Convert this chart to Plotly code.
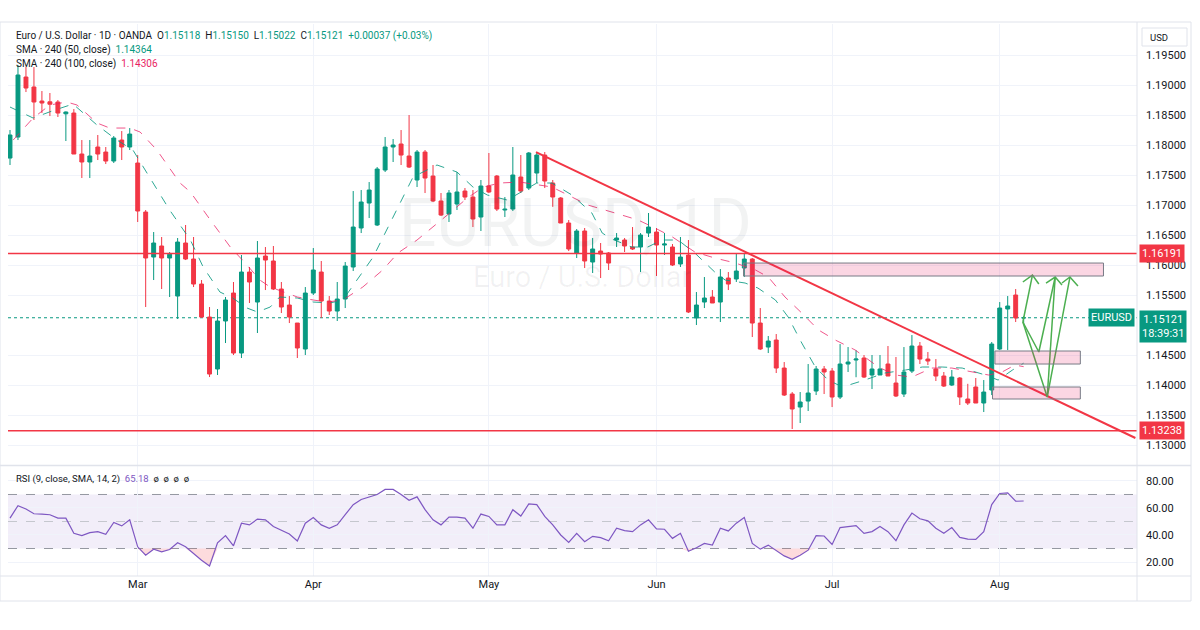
import plotly.graph_objects as go
from plotly.subplots import make_subplots

# ---- data (x = daily bar index) ----
month_ticks = [16, 38, 60, 81, 103, 124]
month_labels = ["Mar", "Apr", "May", "Jun", "Jul", "Aug"]
price_ticks = [1.130, 1.135, 1.140, 1.145, 1.155, 1.160, 1.165, 1.170, 1.175,
               1.180, 1.185, 1.190, 1.195]
rsi_ticks = [20, 40, 60, 80]

opens = [
    1.17783, 1.18133, 1.19133, 1.18967, 1.18733, 1.18720, 1.18717, 1.18520, 1.18533, 1.17850,
    1.17717, 1.17967, 1.17883, 1.17733, 1.18083, 1.17967, 1.17700, 1.16883, 1.16133, 1.16317,
    1.16117, 1.15483, 1.16367, 1.16100, 1.15683, 1.15133, 1.14267, 1.15067, 1.15533, 1.14533,
    1.15883, 1.15383, 1.16150, 1.16067, 1.15600, 1.15333, 1.15033, 1.14600, 1.15533, 1.15883,
    1.15400, 1.15233, 1.15433, 1.15967, 1.16617, 1.17033, 1.16667, 1.17583, 1.17967, 1.18017,
    1.17817, 1.17417, 1.17883, 1.17483, 1.17067, 1.16850, 1.17017, 1.17233, 1.17133, 1.16800,
    1.17317, 1.17483, 1.16917, 1.16933, 1.17467, 1.17283, 1.17533, 1.17833, 1.17367, 1.17117,
    1.16700, 1.16200, 1.16567, 1.16050, 1.16233, 1.16200, 1.16417, 1.16417, 1.16300, 1.16300,
    1.16533, 1.16550, 1.16333, 1.16300, 1.16017, 1.16167, 1.15117, 1.15383, 1.15467, 1.15383,
    1.15783, 1.15767, 1.15950, 1.16100, 1.15033, 1.14633, 1.14750, 1.14283, 1.13850, 1.13633,
    1.13733, 1.13900, 1.14267, 1.14233, 1.13800, 1.14350, 1.14417, 1.14450, 1.14167, 1.14167,
    1.14350, 1.14033, 1.13850, 1.14233, 1.14650, 1.14433, 1.14267, 1.14150, 1.14000, 1.14117,
    1.13767, 1.13967, 1.13700, 1.13917, 1.14600, 1.15267, 1.15500, 1.15118]
highs = [
    1.18250, 1.19333, 1.19300, 1.19300, 1.18900, 1.18867, 1.18750, 1.18560, 1.18600, 1.18083,
    1.18083, 1.18167, 1.17967, 1.18150, 1.18233, 1.18283, 1.17833, 1.16917, 1.16550, 1.16467,
    1.16217, 1.16450, 1.16667, 1.16467, 1.15750, 1.15300, 1.15267, 1.15467, 1.15717, 1.16167,
    1.15967, 1.16400, 1.16300, 1.16317, 1.15717, 1.15483, 1.15033, 1.15633, 1.16283, 1.16067,
    1.15483, 1.15717, 1.16050, 1.17233, 1.17250, 1.17383, 1.17633, 1.18133, 1.18100, 1.18250,
    1.18500, 1.17917, 1.17917, 1.17667, 1.17200, 1.17250, 1.17550, 1.17283, 1.17250, 1.17417,
    1.17867, 1.17500, 1.17133, 1.17967, 1.17833, 1.17883, 1.17867, 1.17883, 1.17417, 1.17133,
    1.16750, 1.16600, 1.16617, 1.16450, 1.16367, 1.16217, 1.16533, 1.16450, 1.16633, 1.16533,
    1.16867, 1.16617, 1.16533, 1.16350, 1.16467, 1.16417, 1.15550, 1.15800, 1.15583, 1.15933,
    1.15883, 1.16200, 1.16200, 1.16117, 1.15283, 1.14817, 1.14850, 1.14383, 1.13883, 1.13883,
    1.14350, 1.14317, 1.14317, 1.14283, 1.14683, 1.14633, 1.14580, 1.14500, 1.14500, 1.14500,
    1.14650, 1.14467, 1.14633, 1.14833, 1.14717, 1.14550, 1.14433, 1.14217, 1.14250, 1.14133,
    1.14020, 1.14117, 1.14083, 1.14717, 1.15383, 1.15483, 1.15600, 1.15150]
lows = [
    1.17667, 1.18083, 1.18883, 1.18417, 1.18533, 1.18483, 1.18467, 1.18067, 1.17850, 1.17450,
    1.17450, 1.17750, 1.17683, 1.17700, 1.17750, 1.17917, 1.16717, 1.15300, 1.15750, 1.15600,
    1.15467, 1.15100, 1.16083, 1.15633, 1.15117, 1.14133, 1.14167, 1.14700, 1.14500, 1.14450,
    1.15367, 1.14867, 1.15583, 1.15583, 1.15200, 1.15033, 1.14450, 1.14500, 1.15500, 1.15117,
    1.15167, 1.15067, 1.15283, 1.15900, 1.16533, 1.16783, 1.16650, 1.17550, 1.17717, 1.17667,
    1.17617, 1.17300, 1.17200, 1.17050, 1.16817, 1.16717, 1.16917, 1.17083, 1.16633, 1.16567,
    1.17200, 1.16900, 1.16800, 1.16900, 1.17200, 1.17250, 1.17367, 1.17283, 1.16970, 1.16700,
    1.16233, 1.16117, 1.15950, 1.15867, 1.15783, 1.15917, 1.16300, 1.16217, 1.16250, 1.15883,
    1.16467, 1.15817, 1.16167, 1.15983, 1.15967, 1.15200, 1.15000, 1.15283, 1.15367, 1.15050,
    1.15583, 1.15717, 1.15800, 1.14800, 1.14583, 1.14533, 1.14200, 1.13817, 1.13267, 1.13367,
    1.13567, 1.13833, 1.13850, 1.13633, 1.13767, 1.14217, 1.14130, 1.14117, 1.13933, 1.14167,
    1.14150, 1.13800, 1.13800, 1.14200, 1.14350, 1.14333, 1.14067, 1.13967, 1.13983, 1.13667,
    1.13667, 1.13700, 1.13550, 1.13833, 1.14583, 1.14583, 1.15050, 1.15022]
closes = [
    1.18167, 1.19167, 1.18950, 1.18717, 1.18700, 1.18680, 1.18533, 1.18550, 1.17850, 1.17717,
    1.17817, 1.17850, 1.17733, 1.18117, 1.17967, 1.18183, 1.16900, 1.16117, 1.16367, 1.16117,
    1.16180, 1.16383, 1.16100, 1.15683, 1.15133, 1.14183, 1.15067, 1.15417, 1.14533, 1.15883,
    1.15717, 1.16117, 1.16083, 1.15600, 1.15300, 1.15133, 1.14617, 1.15533, 1.15917, 1.15400,
    1.15233, 1.15433, 1.15983, 1.16633, 1.17050, 1.17250, 1.17600, 1.17967, 1.18000, 1.17833,
    1.17633, 1.17883, 1.17450, 1.17067, 1.16833, 1.17200, 1.17217, 1.17133, 1.16767, 1.17317,
    1.17217, 1.16933, 1.16930, 1.17500, 1.17233, 1.17867, 1.17833, 1.17400, 1.17133, 1.16700,
    1.16267, 1.16567, 1.16067, 1.16267, 1.16183, 1.16033, 1.16450, 1.16317, 1.16267, 1.16500,
    1.16633, 1.16333, 1.16350, 1.16000, 1.16133, 1.15217, 1.15333, 1.15450, 1.15367, 1.15800,
    1.15683, 1.15900, 1.16100, 1.15033, 1.14600, 1.14733, 1.14283, 1.13833, 1.13600, 1.13717,
    1.13867, 1.14267, 1.14217, 1.13800, 1.14350, 1.14383, 1.14433, 1.14133, 1.14267, 1.14267,
    1.14150, 1.13817, 1.14217, 1.14650, 1.14433, 1.14400, 1.14150, 1.13983, 1.14133, 1.13800,
    1.13700, 1.13700, 1.13883, 1.14683, 1.15283, 1.15317, 1.15117, 1.15121]
bars = list(range(len(opens)))

# SMA 240 (50) and SMA 240 (100), sampled along the dashed lines
sma50_x = [0, 2.9, 5.6, 7.9, 10.9, 13.4, 15.4, 17.5, 20, 22.6, 24.2, 26.3, 27.9, 29.7, 31,
           32.6, 33.8, 36, 38, 40.1, 41.7, 45.5, 48.5, 50.5, 53.5, 56, 58, 59.8, 62.3, 66,
           67.9, 70.4, 72.9, 74.2, 75.4, 77.9, 79.9, 81.7, 83.7, 85.8, 88.3, 89.6, 92.1, 93.7,
           95.9, 97.5, 99.2, 100.9, 102.5, 104.3, 107.1, 109.6, 112.2, 114.3, 116.8, 119.3,
           122.2, 123.8, 125.6, 127]
sma50_y = [1.18633, 1.1845, 1.18583, 1.18683, 1.18333, 1.18083, 1.17917, 1.17467, 1.16917,
           1.16417, 1.15967, 1.1555, 1.1545, 1.15283, 1.15217, 1.153, 1.15467, 1.1545, 1.15383,
           1.15367, 1.15417, 1.16133, 1.16917, 1.17467, 1.17667, 1.1755, 1.173, 1.17167,
           1.17083, 1.17367, 1.17367, 1.17167, 1.16867, 1.16533, 1.16433, 1.163, 1.163,
           1.16417, 1.16417, 1.162, 1.15883, 1.1575, 1.157, 1.15617, 1.15417, 1.15133, 1.147,
           1.143, 1.14083, 1.13967, 1.14083, 1.142, 1.1425, 1.143, 1.143, 1.14283, 1.14167,
           1.14083, 1.1425, 1.14364]
sma100_x = [0.4, 2.9, 5, 7.1, 8.4, 10.9, 12.5, 15, 16.3, 18.4, 21.3, 22.6, 25.1, 27.6, 29.7,
            31.3, 32.6, 34.2, 36, 38, 39.7, 41.7, 44.2, 46.7, 48.6, 51, 53, 55.1, 57.3, 59.3,
            61.4, 63.9, 67.9, 70.4, 72.4, 75.8, 78.7, 80.8, 83, 85.8, 88.3, 90.9, 93.4, 95,
            97.1, 99.2, 101.3, 103.4, 105.9, 108.8, 110.9, 113, 115.5, 118, 120.6, 122.6,
            124.3, 125.9, 127]
sma100_y = [1.18083, 1.1845, 1.18667, 1.18717, 1.18667, 1.18367, 1.18283, 1.18283, 1.18217,
            1.17917, 1.17367, 1.17217, 1.1675, 1.163, 1.16, 1.1575, 1.15633, 1.1555, 1.15467,
            1.15417, 1.15383, 1.15417, 1.15633, 1.15917, 1.162, 1.16417, 1.16633, 1.16867,
            1.17117, 1.173, 1.17367, 1.17383, 1.173, 1.17133, 1.17, 1.16867, 1.1675, 1.16617,
            1.16467, 1.16217, 1.16117, 1.16033, 1.15917, 1.158, 1.15467, 1.152, 1.14917,
            1.1475, 1.14583, 1.143, 1.14167, 1.14133, 1.14283, 1.14283, 1.14217, 1.14167,
            1.14217, 1.14333, 1.14306]

rsi = [52.5, 61.75, 59.25, 55.75, 55.5, 55.0, 52.5, 52.5, 41.25, 39.5,
       41.75, 42.5, 40.5, 49.25, 46.75, 51.25, 31.25, 25.0, 29.5, 27.5,
       29.25, 34.25, 31.25, 26.25, 21.25, 17.0, 34.25, 39.5, 32.0, 48.75,
       47.5, 51.75, 51.25, 46.25, 43.25, 40.75, 35.5, 48.75, 53.0, 47.5,
       45.0, 47.5, 55.0, 62.5, 66.25, 68.25, 70.0, 73.75, 73.75, 70.0,
       65.75, 68.25, 58.75, 51.25, 47.5, 53.25, 53.25, 52.5, 45.0, 55.5,
       53.75, 47.5, 47.5, 58.75, 54.0, 63.0, 62.5, 53.75, 47.5, 40.0,
       34.5, 41.25, 35.0, 39.0, 38.0, 35.75, 45.0, 43.25, 42.5, 47.5,
       51.25, 44.5, 44.25, 37.5, 41.25, 28.0, 30.5, 33.75, 32.5, 45.0,
       43.0, 48.75, 53.0, 33.75, 29.5, 32.5, 28.75, 24.5, 22.0, 25.0,
       28.75, 39.5, 39.25, 33.0, 45.5, 46.25, 47.0, 41.25, 42.5, 46.25,
       42.5, 35.75, 47.5, 56.25, 52.0, 50.5, 45.0, 41.25, 45.5, 38.25,
       37.0, 36.75, 42.5, 62.5, 70.75, 71.25, 65.0, 65.18]

assert len(opens) == len(highs) == len(lows) == len(closes) == len(rsi) == 128

resistance = 1.16191
support = 1.13238
last_price = 1.15121

# drawings
trend_x = [65.9, 141.0]
trend_y = [1.17883, 1.13117]
zone_x0 = [91.9, 123.4, 123.1]
zone_x1 = [137.0, 134.1, 134.1]
zone_y0 = [1.15817, 1.14350, 1.13767]
zone_y1 = [1.16033, 1.14567, 1.13967]
arrow_paths_x = [[126.9, 128.1], [126.9, 128.9, 130.95], [126.9, 129.95, 132.8], [129.95, 130.95]]
arrow_paths_y = [[1.1505, 1.15833], [1.1505, 1.1455, 1.158], [1.1505, 1.138, 1.158], [1.138, 1.158]]
arrow_heads_x = [[126.9, 128.1, 128.9], [129.8, 130.95, 131.8], [131.8, 132.8, 133.8]]
arrow_heads_y = [[1.15717, 1.15833, 1.15683], [1.157, 1.158, 1.15667], [1.157, 1.158, 1.1565]]

UP = "#089981"
DOWN = "#F23645"
GRID = "#F0F3FA"
TXT = "#131722"
FONT = "Roboto"

W, H = 1200, 630
L, R, T, B = 8, 63, 24, 54


def px(x):
    return (x - L) / (W - L - R)


def py(y):
    return (H - B - y) / (H - T - B)


fig = make_subplots(rows=2, cols=1, shared_xaxes=True, vertical_spacing=0)

fig.add_trace(go.Scatter(x=sma50_x, y=sma50_y, mode="lines", line=dict(color="rgba(8,153,129,0.85)", width=1, dash="dash"),
                         hoverinfo="skip", showlegend=False), row=1, col=1)
fig.add_trace(go.Scatter(x=sma100_x, y=sma100_y, mode="lines", line=dict(color="rgba(233,30,99,0.75)", width=1, dash="dash"),
                         hoverinfo="skip", showlegend=False), row=1, col=1)

fig.add_trace(go.Candlestick(x=bars, open=opens, high=highs, low=lows, close=closes,
                             increasing=dict(line=dict(color=UP, width=1), fillcolor=UP),
                             decreasing=dict(line=dict(color=DOWN, width=1), fillcolor=DOWN),
                             whiskerwidth=0, showlegend=False, hoverinfo="skip"), row=1, col=1)

fig.add_trace(go.Scatter(x=trend_x, y=trend_y, mode="lines", line=dict(color=DOWN, width=2),
                         hoverinfo="skip", showlegend=False), row=1, col=1)

for ax, ay in zip(arrow_paths_x + arrow_heads_x, arrow_paths_y + arrow_heads_y):
    fig.add_trace(go.Scatter(x=ax, y=ay, mode="lines", line=dict(color="#4CAF50", width=1.5),
                             hoverinfo="skip", showlegend=False), row=1, col=1)

# RSI pane
fig.add_trace(go.Scatter(x=bars, y=[30] * len(bars), mode="lines", line=dict(width=0),
                         hoverinfo="skip", showlegend=False), row=2, col=1)
fig.add_trace(go.Scatter(x=bars, y=[min(v, 30) for v in rsi], mode="lines", line=dict(width=0),
                         fill="tonexty", fillcolor="rgba(242,54,69,0.18)",
                         hoverinfo="skip", showlegend=False), row=2, col=1)
fig.add_trace(go.Scatter(x=bars, y=rsi, mode="lines", line=dict(color="#7E57C2", width=1.2),
                         hoverinfo="skip", showlegend=False), row=2, col=1)

# shapes
shapes = []
for x0, x1, y0, y1 in zip(zone_x0, zone_x1, zone_y0, zone_y1):
    shapes.append(dict(type="rect", xref="x", yref="y", x0=x0, x1=x1, y0=y0, y1=y1,
                       fillcolor="rgba(233,30,99,0.18)", line=dict(color="#787B86", width=1), layer="above"))
for lvl in [resistance, support]:
    shapes.append(dict(type="line", xref="x domain", yref="y", x0=0, x1=1, y0=lvl, y1=lvl,
                       line=dict(color=DOWN, width=1.5), layer="above"))
shapes.append(dict(type="line", xref="x domain", yref="y", x0=0, x1=1, y0=last_price, y1=last_price,
                   line=dict(color=UP, width=1, dash="dot"), layer="below"))
shapes.append(dict(type="rect", xref="x2 domain", yref="y2", x0=0, x1=1, y0=30, y1=70,
                   fillcolor="rgba(126,87,194,0.1)", line=dict(width=0), layer="below"))
for lvl, col in [(70, "#9598A1"), (50, "#C5C7CE"), (30, "#9598A1")]:
    shapes.append(dict(type="line", xref="x2 domain", yref="y2", x0=0, x1=1, y0=lvl, y1=lvl,
                       line=dict(color=col, width=1, dash="dash"), layer="below"))
# frame / separators
BORDER = "#E0E3EB"
shapes += [
    dict(type="rect", xref="paper", yref="paper", x0=px(0), x1=px(1191), y0=py(601), y1=py(22),
         line=dict(color=BORDER, width=1)),
    dict(type="line", xref="paper", yref="paper", x0=1, x1=1, y0=py(601), y1=py(22), line=dict(color=BORDER, width=1)),
    dict(type="line", xref="paper", yref="paper", x0=px(0), x1=px(1191), y0=py(465.5), y1=py(465.5),
         line=dict(color=BORDER, width=1.5)),
    dict(type="line", xref="paper", yref="paper", x0=px(0), x1=px(1191), y0=0, y1=0, line=dict(color=BORDER, width=1)),
    # "USD" box on the price scale
    dict(type="rect", xref="paper", yref="paper", x0=px(1142), x1=px(1187), y0=py(46), y1=py(28),
         line=dict(color=BORDER, width=1), fillcolor="white"),
]

anns = []


def note(x, y, text, size=10, color=TXT, **kw):
    anns.append(dict(xref="paper", yref="paper", x=px(x), y=py(y), text=text, showarrow=False,
                     xanchor="left", yanchor="middle", font=dict(family=FONT, size=size, color=color), **kw))


def g(v, c=UP):
    return f'<span style="color:{c}">{v}</span>'


note(14, 36, "Euro / U.S. Dollar · 1D · OANDA  O" + g("1.15118") + "  H" + g("1.15150") + "  L" + g("1.15022")
     + "  C" + g("1.15121") + "  " + g("+0.00037 (+0.03%)"))
note(14, 50, "SMA · 240 (50, close)  " + g("1.14364"))
note(14, 64, "SMA · 240 (100, close)  " + g("1.14306", "#E91E63"))
note(14, 479, "RSI (9, close, SMA, 14, 2)  " + g("65.18", "#7E57C2") + "  ø  ø  ø  ø", size=9.5)

# watermark
anns.append(dict(xref="paper", yref="paper", x=px(575), y=py(223), text="EURUSD, 1D", showarrow=False,
                 font=dict(family=FONT, size=66, color="rgba(42,46,57,0.06)")))
anns.append(dict(xref="paper", yref="paper", x=px(582), y=py(277), text="Euro / U.S. Dollar", showarrow=False,
                 font=dict(family=FONT, size=29, color="rgba(42,46,57,0.06)")))

# price-scale labels
note(1148, 37, "USD", size=9.5)
for lvl in [resistance, support]:
    anns.append(dict(xref="paper", yref="y", x=1, y=lvl, xanchor="left", xshift=2, text=f"{lvl:.5f}",
                     showarrow=False, bgcolor=DOWN, borderpad=2, font=dict(family=FONT, size=11, color="white")))
anns.append(dict(xref="paper", yref="y", x=1, y=last_price, xanchor="left", yanchor="top", xshift=2, yshift=8,
                 text=f"{last_price:.5f}<br>18:39:31", align="center", showarrow=False, bgcolor=UP, borderpad=2,
                 font=dict(family=FONT, size=11, color="white")))
anns.append(dict(xref="paper", yref="y", x=1, y=last_price, xanchor="right", xshift=-2, text="EURUSD",
                 showarrow=False, bgcolor=UP, borderpad=2, font=dict(family=FONT, size=11, color="white")))

fig.update_layout(
    width=W, height=H, margin=dict(l=L, r=R, t=T, b=B),
    paper_bgcolor="white", plot_bgcolor="white",
    showlegend=False, shapes=shapes, annotations=anns,
    font=dict(family=FONT, size=11, color=TXT),
    xaxis_rangeslider_visible=False,
)
fig.update_xaxes(range=[-0.25, 141.2], tickvals=month_ticks, ticktext=month_labels,
                 showgrid=True, gridcolor=GRID, zeroline=False, showline=False, ticks="")
fig.update_xaxes(showticklabels=False, row=1, col=1)
fig.update_xaxes(tickfont=dict(size=11, color=TXT), row=2, col=1)
fig.update_yaxes(side="right", showgrid=True, gridcolor=GRID, zeroline=False, showline=False, ticks="",
                 tickfont=dict(size=11, color=TXT), ticklabelstandoff=8)
fig.update_yaxes(domain=[py(465), 1], range=[1.12667, 1.20017], tickvals=price_ticks, tickformat=".5f",
                 row=1, col=1)
fig.update_yaxes(domain=[0, py(466)], range=[9.63, 91.1], tickvals=rsi_ticks, tickformat=".2f",
                 row=2, col=1)

fig.write_html("out.html", config={"displayModeBar": False},
               post_script="document.body.style.margin='0';")
